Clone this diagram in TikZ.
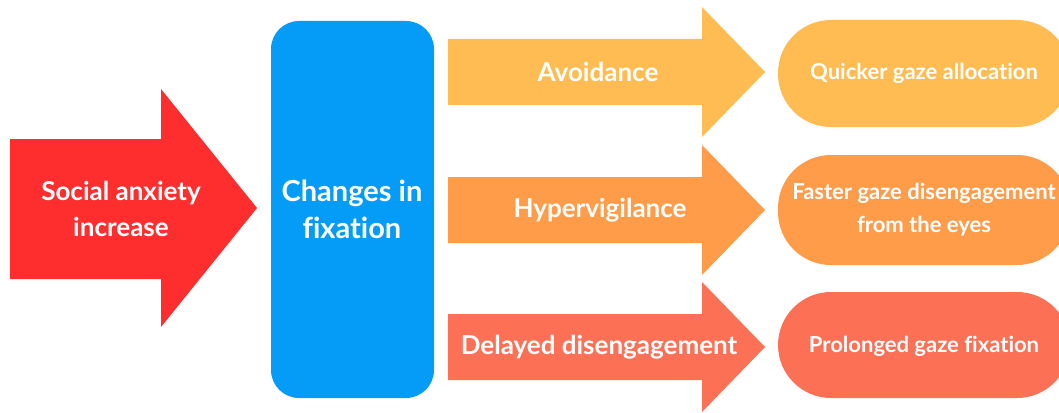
\documentclass[tikz,border=0pt]{standalone}
\usepackage{fontspec}
\setmainfont{Lato}[Ligatures=NoCommon]
\definecolor{anxred}{HTML}{FE2E2E}
\definecolor{fixblue}{HTML}{049CF6}
\definecolor{avoidyel}{HTML}{FFBC52}
\definecolor{hyperora}{HTML}{FF9C4A}
\definecolor{delayred}{HTML}{FC7156}
\begin{document}
\begin{tikzpicture}[x=1pt,y=-1pt]
		\tikzstyle{every node}+=[inner sep=0pt, text=white, font=\bfseries, align=center]
		\tikzstyle{big}=[font=\fontsize{26}{36}\selectfont\bfseries]
		\tikzstyle{bigger}=[font=\fontsize{29}{37}\selectfont\bfseries]
		\tikzstyle{small}=[font=\fontsize{22}{33}\selectfont\bfseries]
		\useasboundingbox (0,0) rectangle (1059,412);
		\clip (0,0) rectangle (1059,412);
		\fill [anxred] (10,139) -- (161,139) -- (161,89) -- (257,208) -- (161,327) -- (161,279) -- (10,279) -- cycle;
		\draw (121,209) node [big] (anx) {Social anxiety\\increase};
		\fill [fixblue, rounded corners=28pt] (271,21) rectangle (434,398);
		\draw (352,209) node [bigger] (fix) {Changes in\\fixation};
		\fill [avoidyel] (448,39) -- (702,39) -- (702,7) -- (765,72) -- (702,137) -- (702,105) -- (448,105) -- cycle;
		\draw (598,72) node [big] (avoid) {Avoidance};
		\fill [hyperora] (448,177) -- (702,177) -- (702,145) -- (765,210) -- (702,275) -- (702,243) -- (448,243) -- cycle;
		\draw (600,210) node [big] (hyper) {Hypervigilance};
		\fill [delayred] (448,314) -- (702,314) -- (702,282) -- (765,347) -- (702,412) -- (702,380) -- (448,380) -- cycle;
		\draw (599,347) node [big] (delay) {Delayed disengagement};
		\fill [avoidyel, rounded corners=53pt] (778,20) rectangle (1070,127);
		\draw (924,73) node [small] (quick) {Quicker gaze allocation};
		\fill [hyperora, rounded corners=53pt] (778,155) rectangle (1070,265);
		\draw (924,210) node [small] (faster) {Faster gaze disengagement\\from the eyes};
		\fill [delayred, rounded corners=53pt] (778,292) rectangle (1070,398);
		\draw (924,346) node [small] (prolong) {Prolonged gaze fixation};
		\end{tikzpicture}
\end{document}
